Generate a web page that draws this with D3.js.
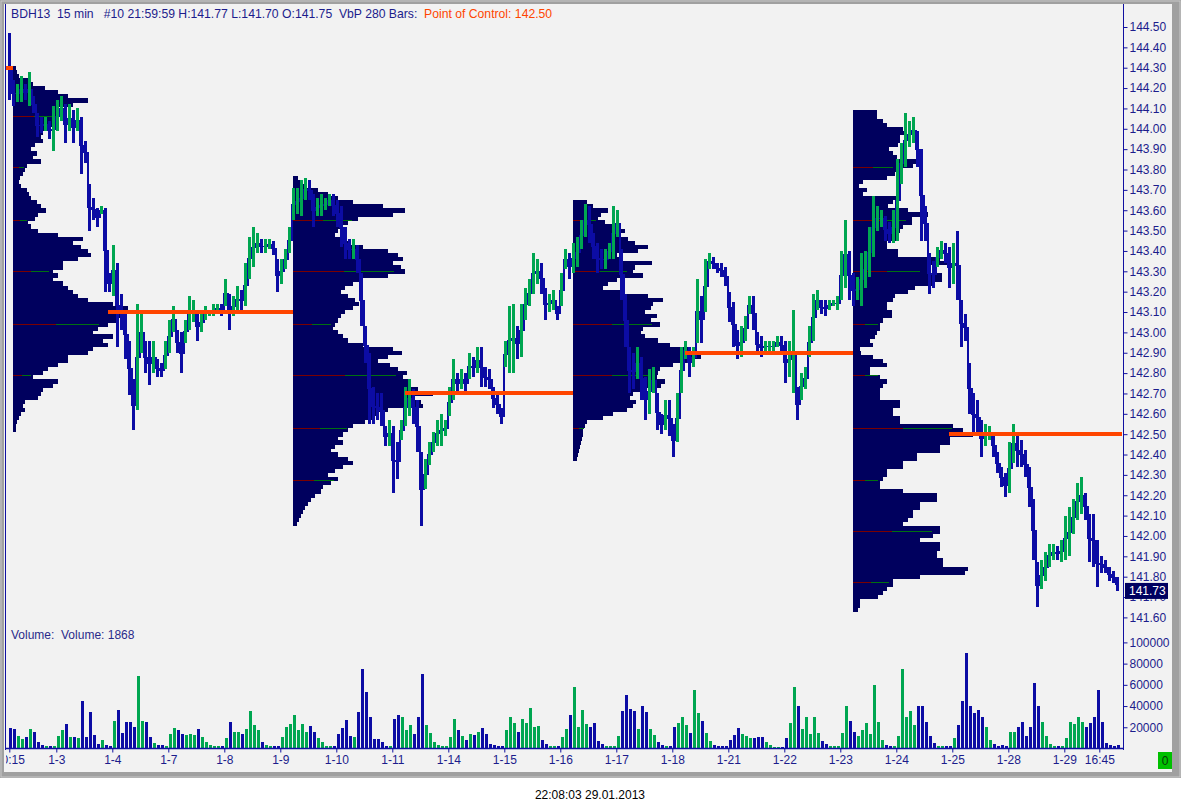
<!DOCTYPE html>
<html><head><meta charset="utf-8">
<script src="https://cdn.jsdelivr.net/npm/d3@7"></script>
<style>
html,body{margin:0;padding:0;background:#fff;}
svg{display:block;font-family:Arial,"Liberation Sans",sans-serif;}
</style></head><body>
<svg id="c" width="1181" height="811"></svg>
<script>
// ---------------- DATA ----------------
const days = ["1-2","1-3","1-4","1-7","1-8","1-9","1-10","1-11","1-14","1-15","1-16","1-17","1-18","1-21","1-22","1-23","1-24","1-25","1-28","1-29"];
// hourly highs / lows per day
const priceHigh = [
 [144.47,144.24,144.22,144.26,144.22,144.28,144.16,144.08,144.06,144.06,144.04,144.11],
 [144.14,144.16,144.12,144.12,144.09,144.10,144.06,143.94,143.73,143.66,143.61,143.62,143.61,143.29],
 [143.43,143.34,143.19,143.11,142.96,142.77,143.14,143.10,142.96,142.96,142.96,142.87,142.85,142.96],
 [143.06,143.13,143.01,143.00,143.06,143.18,143.16,143.10,143.10,143.13,143.11,143.14,143.14,143.14],
 [143.26,143.19,143.18,143.23,143.21,143.34,143.47,143.52,143.49,143.46,143.46,143.46,143.45,143.36],
 [143.36,143.41,143.52,143.71,143.71,143.75,143.76,143.75,143.68,143.66,143.68,143.66,143.68,143.68],
 [143.65,143.62,143.52,143.46,143.46,143.43,143.29,143.03,142.90,142.73,142.70,142.70,142.54,142.57],
 [142.54,142.46,142.57,142.73,142.77,142.72,142.67,142.41,142.38,142.46,142.51,142.57,142.60,142.57],
 [142.73,142.87,142.80,142.82,142.80,142.90,142.88,142.93,142.93,142.83,142.82,142.73,142.70,142.63],
 [142.96,143.13,143.14,143.03,143.14,143.22,143.26,143.39,143.36,143.34,143.22,143.19,143.21,143.13],
 [143.29,143.41,143.39,143.44,143.47,143.55,143.63,143.62,143.49,143.44,143.41,143.41,143.44,143.62],
 [143.60,143.41,143.19,142.93,142.90,142.93,142.88,142.78,142.82,142.83,142.70,142.60,142.67,142.67],
 [142.55,142.70,142.93,142.96,142.93,142.93,143.26,143.18,143.36,143.39,143.37,143.34,143.34,143.32],
 [143.20,143.15,143.01,143.03,143.08,143.18,143.18,143.00,142.98,142.96,142.96,142.96,142.98,142.98],
 [142.96,142.96,143.11,142.73,142.80,142.83,143.03,143.19,143.21,143.16,143.16,143.16,143.16,143.18],
 [143.40,143.55,143.40,143.29,143.27,143.39,143.40,143.52,143.67,143.62,143.60,143.57,143.54,143.60],
 [143.85,143.93,144.08,144.04,144.06,143.99,143.90,143.62,143.39,143.35,143.42,143.45,143.44,143.42],
 [143.44,143.50,143.16,143.09,142.85,142.70,142.67,142.57,142.55,142.54,142.50,142.41,142.34,142.31],
 [142.46,142.55,142.50,142.47,142.42,142.34,142.18,141.87,141.88,141.92,141.96,141.96,141.95,141.98],
 [142.10,142.14,142.18,142.26,142.29,142.21,142.11,142.11,141.98,141.90,141.88,141.85,141.83,141.80]
];
const priceLow = [
 [144.14,144.11,144.13,144.13,144.14,144.11,144.08,143.96,143.98,143.99,143.95,143.89],
 [143.99,144.04,143.93,143.99,143.93,143.99,143.78,143.83,143.50,143.55,143.52,143.58,143.20,143.20],
 [143.18,142.93,143.01,142.87,142.69,142.52,142.62,142.90,142.80,142.74,142.80,142.78,142.78,142.82],
 [142.90,143.00,142.90,142.80,142.95,143.01,143.05,142.96,143.00,143.06,143.08,143.08,143.10,143.08],
 [143.13,143.01,143.08,143.10,143.11,143.13,143.26,143.32,143.39,143.39,143.39,143.41,143.38,143.20],
 [143.24,143.31,143.39,143.55,143.58,143.57,143.65,143.65,143.52,143.57,143.57,143.60,143.62,143.57],
 [143.52,143.42,143.36,143.36,143.36,143.29,143.03,142.85,142.55,142.55,142.57,142.54,142.44,142.44],
 [142.21,142.28,142.47,142.54,142.59,142.55,142.41,142.05,142.23,142.35,142.41,142.44,142.44,142.49],
 [142.59,142.67,142.70,142.72,142.70,142.77,142.78,142.80,142.73,142.73,142.72,142.63,142.60,142.55],
 [142.83,142.80,142.80,142.87,142.88,143.06,143.13,143.19,143.24,143.19,143.06,143.10,143.11,143.06],
 [143.13,143.31,143.26,143.29,143.32,143.41,143.47,143.44,143.36,143.29,143.31,143.31,143.36,143.36],
 [143.47,143.16,142.93,142.70,142.72,142.77,142.67,142.57,142.60,142.70,142.52,142.50,142.52,142.49],
 [142.39,142.46,142.70,142.87,142.78,142.83,142.95,142.95,143.10,143.31,143.31,143.29,143.27,143.23],
 [143.05,142.93,142.87,142.88,142.96,143.09,143.01,142.89,142.88,142.91,142.91,142.91,142.93,142.90],
 [142.75,142.78,142.70,142.57,142.67,142.72,142.88,142.96,143.11,143.09,143.08,143.11,143.13,143.11],
 [143.16,143.22,143.16,143.13,143.16,143.13,143.22,143.27,143.37,143.50,143.52,143.45,143.44,143.44],
 [143.45,143.73,143.81,143.91,143.93,143.81,143.45,143.45,143.19,143.22,143.32,143.36,143.34,143.22],
 [143.24,143.16,142.93,142.96,142.60,142.50,142.50,142.39,142.44,142.47,142.39,142.31,142.24,142.19],
 [142.21,142.36,142.34,142.34,142.29,142.14,141.88,141.65,141.74,141.78,141.85,141.88,141.88,141.87],
 [141.88,141.90,142.01,142.08,142.11,142.08,141.87,141.85,141.75,141.82,141.82,141.78,141.77,141.73]
];
// hourly volume (thousands of contracts per 15-min bar)
const volumeK = [
 [19,18,12,9,11,18,16,6,3,2,2,2],
 [12,17,23,11,11,10,45,11,34,13,4,8,3,2],
 [26,36,15,25,25,20,68,26,25,11,5,3,3,2],
 [14,19,17,14,13,14,13,18,11,6,3,2,2,2],
 [10,25,16,16,14,18,35,22,17,6,3,2,2,2],
 [11,20,23,32,17,23,16,21,16,10,6,2,2,2],
 [14,19,27,12,11,34,75,53,30,9,9,6,2,2],
 [28,32,30,17,22,14,30,70,22,15,6,3,2,2],
 [11,28,17,12,8,14,13,16,19,14,4,3,2,2],
 [17,30,24,16,28,24,38,20,21,8,4,2,2,2],
 [11,18,32,58,20,36,23,20,24,7,4,2,2,2],
 [12,35,50,37,35,18,40,34,18,13,6,3,2,2],
 [20,24,30,22,15,55,33,26,15,7,3,2,2,2],
 [8,13,19,14,12,10,10,11,11,6,3,1,1,1],
 [10,24,58,40,18,30,14,30,15,7,4,2,2,2],
 [15,40,26,16,12,17,24,14,60,25,8,3,2,2],
 [12,75,30,35,22,40,40,25,12,5,2,2,2,2],
 [10,22,45,90,40,33,36,30,20,8,4,2,3,2],
 [16,16,20,25,12,20,62,40,25,12,4,2,2,2],
 [10,25,23,30,25,20,24,30,55,25,5,3,2,3]
];
// volume-by-price profiles (0.02 bins from top price downward)
const profileTops = [144.30, 143.76, 143.64, 144.08];
const profileStartBars = [4, 284, 564, 844];
const pocPrices = [143.10, 142.70, 142.90, 142.50];
const prevPoc = 144.30;
const profile1 = [3,4,6,18,20,32,45,55,75,60,45,44,45,42,40,38,30,28,30,22,18,24,20,28,14,12,10,7,6,8,14,16,18,24,28,33,25,22,15,18,25,45,70,60,68,75,78,65,50,50,40,45,40,50,55,60,65,75,100,115,118,112,105,95,85,80,100,90,95,80,75,55,55,45,35,30,20,45,40,30,28,25,12,10,12,8,6,4,3,3];
const profile2 = [5,8,12,25,35,45,60,90,112,100,65,55,50,45,42,48,55,70,95,105,110,100,108,112,95,70,60,52,48,55,62,66,60,52,48,45,42,40,45,50,55,70,100,109,95,85,97,105,114,110,115,118,125,140,120,128,130,95,85,80,72,60,55,50,45,50,42,38,45,55,60,50,42,35,45,38,30,28,22,18,15,12,10,8,6,4];
const profile3 = [14,20,35,28,25,32,40,52,44,55,62,75,65,44,50,79,62,60,70,44,35,30,50,75,90,80,78,72,84,78,87,70,68,72,85,97,115,140,128,120,100,87,85,84,92,88,67,60,57,63,60,54,40,30,14,12,10,10,9,8,7,6,5,4];
const profile4 = [24,24,30,34,50,52,47,47,45,36,40,44,64,60,44,42,34,10,6,14,10,44,40,35,55,75,59,59,50,47,44,44,34,34,45,45,87,97,74,74,89,89,80,62,55,42,40,34,34,39,39,30,27,27,24,22,17,20,7,8,20,30,34,17,17,27,34,30,27,27,27,47,47,40,40,47,47,100,110,120,97,97,87,87,64,64,50,50,34,34,30,27,27,50,84,84,67,67,60,60,55,50,87,87,80,67,87,87,84,84,90,90,115,112,67,40,40,34,30,25,7,7,5];
const markerLevels = [144.06,143.81,143.55,143.30,143.04,142.79,142.53,142.27,142.02,141.77];
const priceTicks = [144.5,144.4,144.3,144.2,144.1,144.0,143.9,143.8,143.7,143.6,143.5,143.4,143.3,143.2,143.1,143.0,142.9,142.8,142.7,142.6,142.5,142.4,142.3,142.2,142.1,142.0,141.9,141.8,141.7,141.6];
const volTicks = [20000,40000,60000,80000,100000];
const xTickBars = [0,47,103,159,215,271,327,383,439,495,551,607,663,719,775,831,887,943,999,1055,1090];
const xTickLabels = ["10:15","1-3","1-4","1-7","1-8","1-9","1-10","1-11","1-14","1-15","1-16","1-17","1-18","1-21","1-22","1-23","1-24","1-25","1-28","1-29","16:45"];
const lastPrice = 141.73;

// ---------------- DRAW ----------------
const svg = d3.select("#c");
const BLUE="#0c0ca4", GREEN="#00a651", NAVY="#00005e", ORANGE="#ff4500", TXT="#1c1c8c";
const x = d3.scaleLinear().domain([0,1111]).range([9.3,1120.3]);
const yP = d3.scaleLinear().domain([141.6,144.5]).range([617.4,27]);
const yV = d3.scaleLinear().domain([0,100000]).range([748.5,642.4]);
const pw = d3.scaleLinear().domain([0,100]).range([0,100]);

svg.append("rect").attr("width",1181).attr("height",811).attr("fill","#fff");
svg.append("rect").attr("width",1181).attr("height",778).attr("fill","#a0a0a0");
svg.append("rect").attr("x",1).attr("y",1).attr("width",1179).attr("height",776).attr("fill","none").attr("stroke","#c8c8c8");
svg.append("rect").attr("x",4).attr("y",4).attr("width",1168).attr("height",768).attr("fill","#f2f2f2");

const defs = svg.append("defs");
defs.append("clipPath").attr("id","plot").append("rect").attr("x",6).attr("y",4).attr("width",1117).attr("height",746);
const plot = svg.append("g").attr("clip-path","url(#plot)").attr("shape-rendering","crispEdges");

// bars
const bars=[];
days.forEach((d,di)=>{
  priceHigh[di].forEach((h,hi)=>{
    const start = di===0 ? -1+4*hi : 47+56*(di-1)+4*hi;
    bars.push({start, h, l:priceLow[di][hi], v:volumeK[di][hi]*1000});
  });
});
bars.forEach((b,i)=>{
  b.mid=(b.h+b.l)/2;
  const prev = i ? bars[i-1].mid : b.mid+1;
  b.up = b.mid>=prev;
});

// profiles
const profVols=[profile1,profile2,profile3,profile4];
const profiles = profVols.map((vols,i)=>({
  vols, top:profileTops[i], poc:pocPrices[i],
  x0:x(profileStartBars[i]),
  x1: i<3 ? x(profileStartBars[i+1]) : 1122
}));

profiles.forEach(p=>{
  plot.append("g").selectAll("rect").data(p.vols).join("rect")
    .attr("x",p.x0)
    .attr("y",(v,k)=>yP(p.top-0.02*k+0.01))
    .attr("width",v=>pw(v))
    .attr("height",(v,k)=>yP(p.top-0.02*k-0.01)-yP(p.top-0.02*k+0.01)+0.3)
    .attr("fill",NAVY);
  const lv = markerLevels.filter(l=> l<=p.top-0.05 && l>=p.top-0.02*(p.vols.length-1)+0.04);
  lv.forEach(l=>{
    const k=Math.round((p.top-l)/0.02);
    const w=pw(p.vols[k]);
    plot.append("rect").attr("x",p.x0).attr("y",yP(l)-0.5).attr("width",w*0.45).attr("height",1).attr("fill","#7a0000");
    plot.append("rect").attr("x",p.x0+w*0.45).attr("y",yP(l)-0.5).attr("width",w*0.45).attr("height",1).attr("fill","#007010");
  });
});

// price connectors (fill the column between consecutive hourly bars)
plot.append("g").selectAll("rect").data(bars.slice(1)).join("rect")
  .attr("x",(b)=>x(b.start)-1)
  .attr("width",1.2)
  .attr("y",(b,i)=>Math.min(yP(bars[i].mid),yP(b.mid)))
  .attr("height",(b,i)=>Math.abs(yP(bars[i].mid)-yP(b.mid))+1)
  .attr("fill",BLUE);
// price bars
plot.append("g").selectAll("rect").data(bars).join("rect")
  .attr("x",b=>x(b.start))
  .attr("width",3)
  .attr("y",b=>yP(b.h))
  .attr("height",b=>Math.max(1.5,yP(b.l)-yP(b.h)))
  .attr("fill",b=>b.up?GREEN:BLUE);

// POC lines
plot.append("rect").attr("x",6).attr("y",yP(prevPoc)-2).attr("width",profiles[0].x0-6).attr("height",4).attr("fill",ORANGE);
profiles.forEach(p=>{
  const k=Math.round((p.top-p.poc)/0.02);
  const xs=p.x0+pw(p.vols[k])*0.8;
  plot.append("rect").attr("x",xs).attr("y",yP(p.poc)-2).attr("width",p.x1-xs).attr("height",4).attr("fill",ORANGE);
});

// volume bars
plot.append("g").selectAll("rect").data(bars).join("rect")
  .attr("x",b=>x(b.start)+0.3)
  .attr("width",3.5)
  .attr("y",b=>yV(b.v))
  .attr("height",b=>yV(0)-yV(b.v))
  .attr("fill",b=>b.up?GREEN:BLUE);

// axes lines
svg.append("line").attr("x1",5.5).attr("x2",5.5).attr("y1",4).attr("y2",750).attr("stroke","#1010a0");
svg.append("line").attr("x1",1123.5).attr("x2",1123.5).attr("y1",4).attr("y2",750).attr("stroke","#1010a0");
svg.append("line").attr("x1",5).attr("x2",1124).attr("y1",748.5).attr("y2",748.5).attr("stroke","#1010a0").attr("stroke-width",1.5);

function styleAxis(g){
  g.select(".domain").remove();
  g.attr("font-family",'Arial,"Liberation Sans",sans-serif').attr("font-size",12);
  g.selectAll("line").attr("stroke","#1010a0");
  g.selectAll("text").attr("fill",TXT);
}
const gy = svg.append("g").attr("transform","translate(1123.5,0)")
  .call(d3.axisRight(yP).tickValues(priceTicks).tickFormat(d3.format(".2f")).tickSize(4).tickSizeOuter(0).tickPadding(2));
styleAxis(gy);
const gv = svg.append("g").attr("transform","translate(1123.5,0)")
  .call(d3.axisRight(yV).tickValues(volTicks).tickFormat(d3.format("d")).tickSize(4).tickSizeOuter(0).tickPadding(2));
styleAxis(gv);

defs.append("clipPath").attr("id","xlab").append("rect").attr("x",6).attr("y",740).attr("width",1117).attr("height",40);
const gx = svg.append("g").attr("clip-path","url(#xlab)").append("g").attr("transform","translate(0,748.5)")
  .call(d3.axisBottom(x).tickValues(xTickBars).tickFormat((d,i)=>xTickLabels[i]).tickSize(4).tickSizeOuter(0).tickPadding(3));
styleAxis(gx);

// last price box
svg.append("rect").attr("x",1125).attr("y",yP(lastPrice)-8).attr("width",43).attr("height",16).attr("fill","#000060");
svg.append("text").attr("x",1129).attr("y",yP(lastPrice)+4.5).attr("fill","#fff").attr("font-size",12).text(lastPrice.toFixed(2));

// green status box
svg.append("rect").attr("x",1158).attr("y",752).attr("width",14).attr("height",17).attr("fill","#00c000");
svg.append("text").attr("x",1165).attr("y",765).attr("text-anchor","middle").attr("fill","#083808").attr("font-size",12).text("0");

// header
const hdr = svg.append("text").attr("x",11).attr("y",18).attr("font-size",12.2).attr("fill",TXT).style("white-space","pre");
hdr.append("tspan").text("BDH13  15 min   #10 21:59:59 H:141.77 L:141.70 O:141.75  VbP 280 Bars:  ");
hdr.append("tspan").attr("fill",ORANGE).text("Point of Control: 142.50");

svg.append("text").attr("x",11).attr("y",639).attr("font-size",12).attr("fill","#2a2a8a").style("white-space","pre").text("Volume:  Volume: 1868");

svg.append("text").attr("x",590).attr("y",799).attr("text-anchor","middle").attr("font-size",12).attr("fill","#000").text("22:08:03 29.01.2013");
</script>
</body></html>
